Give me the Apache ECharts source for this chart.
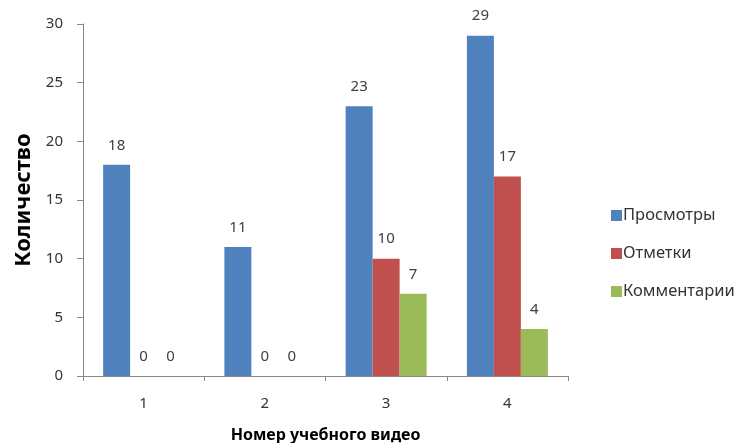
<!DOCTYPE html>
<html>
<head>
<meta charset="utf-8">
<script src="https://cdn.jsdelivr.net/npm/echarts@6/dist/echarts.min.js"></script>
<style>
  html, body { margin: 0; padding: 0; background: #fff; }
  #chart { width: 746px; height: 443px; }
</style>
</head>
<body>
<div id="chart"></div>
<script>
// Video numbers along the x axis
const categories = ['1', '2', '3', '4'];
// Counts per video
const views = [18, 11, 23, 29];
const marks = [0, 0, 10, 17];
const comments = [0, 0, 7, 4];
const seriesNames = ['Просмотры', 'Отметки', 'Комментарии'];
const colors = ['#4F81BD', '#C0504D', '#9BBB59'];

const FONT = 'Noto Sans';
const chart = echarts.init(document.getElementById('chart'), null, { renderer: 'canvas' });

function barSeries(name, data, color) {
  return {
    name: name,
    type: 'bar',
    data: data,
    barWidth: 27,
    barGap: '0%',
    itemStyle: { color: color },
    label: {
      show: true,
      position: 'top',
      distance: 12,
      color: '#404040',
      fontFamily: FONT,
      fontSize: 15
    }
  };
}

chart.setOption({
  animation: false,
  textStyle: { fontFamily: FONT },
  grid: { left: 83, right: 178, top: 24, bottom: 67, outerBoundsMode: 'none' },
  legend: {
    orient: 'vertical',
    left: 606,
    top: 202,
    itemWidth: 11,
    itemHeight: 11,
    itemGap: 21,
    icon: 'rect',
    data: seriesNames,
    textStyle: { color: '#333', fontSize: 16.5, fontFamily: FONT, padding: [0, 0, 0, -4] }
  },
  xAxis: {
    type: 'category',
    data: categories,
    name: 'Номер учебного видео',
    nameLocation: 'middle',
    nameGap: 51,
    nameTextStyle: { color: '#000', fontWeight: 'bold', fontSize: 16, fontFamily: FONT },
    axisLine: { lineStyle: { color: '#888' } },
    axisTick: { show: true, length: 5, alignWithLabel: false, lineStyle: { color: '#888' } },
    axisLabel: { color: '#333', fontSize: 15, margin: 20, fontFamily: FONT }
  },
  yAxis: {
    type: 'value',
    min: 0,
    max: 30,
    interval: 5,
    name: 'Количество',
    nameLocation: 'middle',
    nameGap: 44,
    nameRotate: 90,
    nameTextStyle: { color: '#000', fontWeight: 'bold', fontSize: 22, fontFamily: FONT },
    axisLine: { show: true, lineStyle: { color: '#888' } },
    axisTick: { show: true, length: 6, lineStyle: { color: '#888' } },
    splitLine: { show: false },
    axisLabel: { color: '#333', fontSize: 15, margin: 20, fontFamily: FONT }
  },
  series: [
    barSeries(seriesNames[0], views, colors[0]),
    barSeries(seriesNames[1], marks, colors[1]),
    barSeries(seriesNames[2], comments, colors[2])
  ]
});
</script>
</body>
</html>
